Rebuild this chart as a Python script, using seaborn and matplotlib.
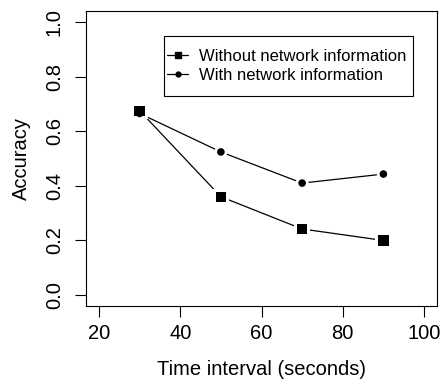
import matplotlib
matplotlib.use("Agg")
import matplotlib.pyplot as plt
import seaborn as sns
import pandas as pd
from matplotlib.lines import Line2D
from matplotlib.patches import Rectangle

time_interval = [30, 50, 70, 90]
without_network = [0.675, 0.360, 0.242, 0.200]
with_network = [0.665, 0.524, 0.410, 0.443]
series_names = ["Without network information", "With network information"]
x_ticks = [20, 40, 60, 80, 100]
y_ticks = [0.0, 0.2, 0.4, 0.6, 0.8, 1.0]

df = pd.DataFrame({
    "time": time_interval * 2,
    "acc": without_network + with_network,
    "series": [series_names[0]] * 4 + [series_names[1]] * 4,
})

sns.set_style("ticks")
plt.rcParams["font.family"] = ["Liberation Sans", "DejaVu Sans"]
plt.rcParams["font.size"] = 12
plt.rcParams["text.color"] = "black"
plt.rcParams["axes.labelcolor"] = "black"

AX_FS = 14.5

fig = plt.figure(figsize=(4.41, 3.81), dpi=100)
ax = fig.add_axes([86 / 441, 75 / 381, 351 / 441, 295 / 381])

markers = {series_names[0]: "s", series_names[1]: "o"}
sizes = {series_names[0]: 56, series_names[1]: 30}
halo = {series_names[0]: 130, series_names[1]: 88}

# lines
sns.lineplot(data=df, x="time", y="acc", units="series", estimator=None,
             color="black", linewidth=0.9, ax=ax, legend=False)
# white halos (gap around points, like R type="b")
for name in series_names:
    sub = df[df.series == name]
    sns.scatterplot(data=sub, x="time", y="acc", marker=markers[name],
                    s=halo[name], color="white", edgecolor="none",
                    ax=ax, legend=False, zorder=3)
# black markers
for name in [series_names[1], series_names[0]]:
    sub = df[df.series == name]
    sns.scatterplot(data=sub, x="time", y="acc", marker=markers[name],
                    s=sizes[name], color="black", edgecolor="none",
                    ax=ax, legend=False, zorder=4)

ax.set_xlim(16.8, 103.2)
ax.set_ylim(-0.04, 1.04)
ax.set_xticks(x_ticks)
ax.set_xticklabels([str(v) for v in x_ticks])
ax.set_yticks(y_ticks)
ax.set_yticklabels([f"{v:.1f}" for v in y_ticks], rotation=90, va="center")
ax.tick_params(axis="both", direction="out", length=8, width=0.8,
               colors="black", labelsize=AX_FS)
ax.tick_params(axis="x", pad=5)
ax.tick_params(axis="y", pad=8)
for sp in ax.spines.values():
    sp.set_visible(True)
    sp.set_color("black")
    sp.set_linewidth(0.8)

ax.set_xlabel("Time interval (seconds)", fontsize=AX_FS, labelpad=12, color="black")
ax.set_ylabel("Accuracy", fontsize=AX_FS, labelpad=10, color="black")

handles = [
    Line2D([], [], color="black", lw=0.9, marker="s", markersize=3.8),
    Line2D([], [], color="black", lw=0.9, marker="o", markersize=3.5),
]
leg = ax.legend(handles, series_names, loc="center left",
                bbox_to_anchor=(0.231, 0.8135), frameon=False,
                borderpad=0, borderaxespad=0, handlelength=1.26,
                handletextpad=0.66, labelspacing=0.25, fontsize=12)
for t in leg.get_texts():
    t.set_color("black")
ax.add_patch(Rectangle((0.222, 0.712), 0.71, 0.203, transform=ax.transAxes,
                       fill=False, edgecolor="black", linewidth=0.8, zorder=5))

fig.savefig("out.png", dpi=100)
